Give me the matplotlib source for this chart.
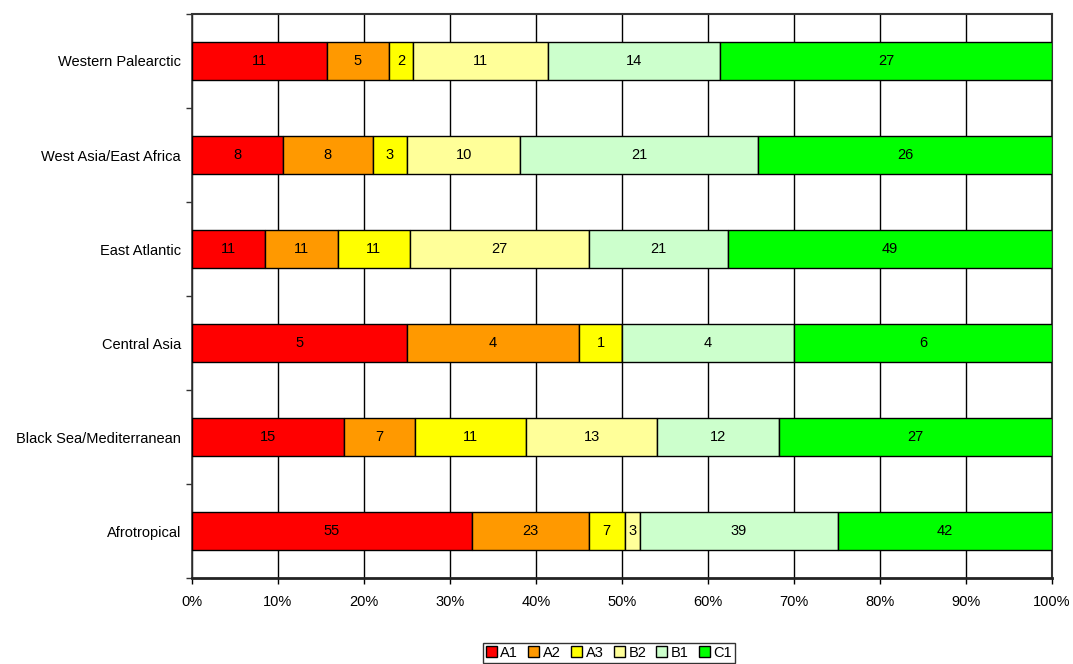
import numpy as np
import matplotlib.pyplot as plt
from matplotlib.ticker import FixedLocator, PercentFormatter

plt.rcParams['font.family'] = ['Liberation Sans', 'DejaVu Sans']

regions = ["Afrotropical", "Black Sea/Mediterranean", "Central Asia",
           "East Atlantic", "West Asia/East Africa", "Western Palearctic"]
series = ["A1", "A2", "A3", "B2", "B1", "C1"]
colors = ["#FF0000", "#FF9900", "#FFFF00", "#FFFF99", "#CCFFCC", "#00FF00"]

# counts per region, in series order
A1 = [55, 15, 5, 11, 8, 11]
A2 = [23, 7, 4, 11, 8, 5]
A3 = [7, 11, 1, 11, 3, 2]
B2 = [3, 13, 0, 27, 10, 11]
B1 = [39, 12, 4, 21, 21, 14]
C1 = [42, 27, 6, 49, 26, 27]

counts = np.array([A1, A2, A3, B2, B1, C1], dtype=float)
totals = counts.sum(axis=0)
shares = counts / totals * 100

fig = plt.figure(figsize=(10.73, 6.64), dpi=100)
ax = fig.add_axes([192 / 1073, 1 - 578 / 664, 860 / 1073, 564 / 664])

y = np.arange(len(regions))
left = np.zeros(len(regions))
handles = []
for i, name in enumerate(series):
    bars = ax.barh(y, shares[i], left=left, height=0.4, color=colors[i],
                   edgecolor="black", linewidth=1, label=name, zorder=3)
    handles.append(bars)
    for j in range(len(regions)):
        if counts[i, j] > 0:
            ax.text(left[j] + shares[i, j] / 2, y[j], f"{int(counts[i, j])}",
                    ha="center", va="center", fontsize=10.5, zorder=4)
    left += shares[i]

ax.set_xlim(0, 100)
ax.set_ylim(-0.5, len(regions) - 0.5)
ax.xaxis.set_major_locator(FixedLocator(np.arange(0, 101, 10)))
ax.xaxis.set_major_formatter(PercentFormatter(decimals=0))
ax.set_yticks(y)
ax.set_yticklabels(regions)
ax.yaxis.set_minor_locator(FixedLocator(np.arange(-0.5, len(regions), 1)))
ax.tick_params(axis="y", which="major", length=0, pad=8, labelsize=10.5)
ax.tick_params(axis="y", which="minor", length=4, width=1, color="#333333")
ax.tick_params(axis="x", which="major", length=4, width=1, pad=8, labelsize=10.5)
ax.grid(axis="x", color="black", linewidth=1, zorder=0)

for side in ["top", "right"]:
    ax.spines[side].set_color("#333333")
    ax.spines[side].set_linewidth(1.5)
ax.spines["left"].set_color("#333333")
ax.spines["left"].set_linewidth(1.2)
ax.spines["bottom"].set_color("#222222")
ax.spines["bottom"].set_linewidth(2)

leg = fig.legend(handles=handles, labels=series, loc="lower center",
                 bbox_to_anchor=(609 / 1073, 0.0), ncol=6, fontsize=10.5,
                 frameon=True, fancybox=False, edgecolor="black",
                 handlelength=0.75, handleheight=0.75, handletextpad=0.25,
                 columnspacing=0.7, borderpad=0.2, borderaxespad=0.1)
leg.get_frame().set_linewidth(1)

fig.savefig("out.png", dpi=100)
